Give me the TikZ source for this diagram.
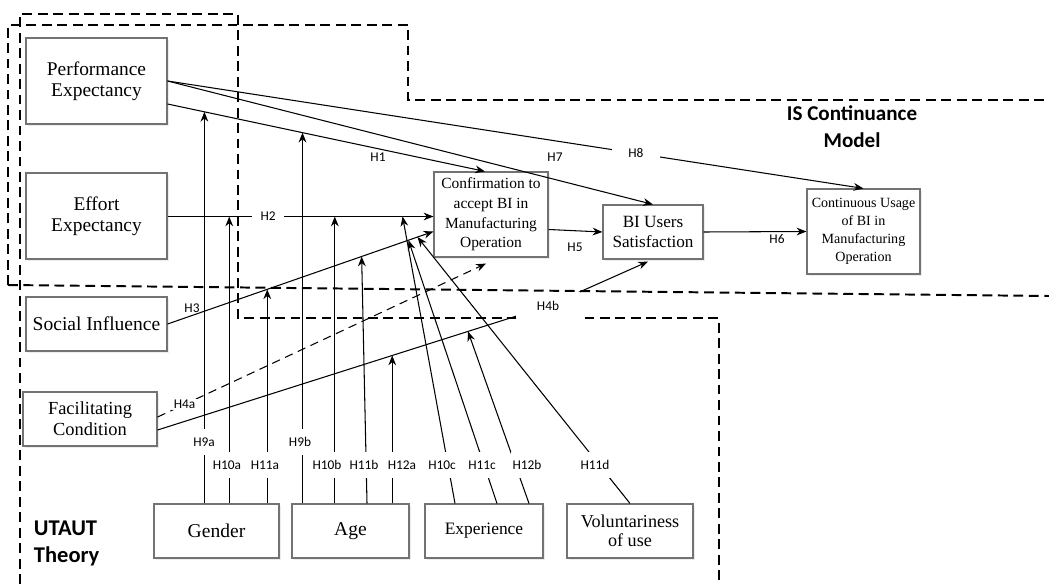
\documentclass[tikz,border=0pt]{standalone}
\usepackage{fontspec}
\setmainfont{Liberation Serif}
\newfontfamily\hfont{Carlito}
\usetikzlibrary{arrows.meta,calc,shadows}

\begin{document}
\begin{tikzpicture}[x=0.025cm,y=-0.025cm,>={Stealth[length=7pt,width=5.5pt]},
  box/.style={draw=black!55,line width=0.8pt,fill=white,align=center,inner sep=1pt,
    drop shadow={shadow xshift=1.2pt,shadow yshift=-1.2pt,opacity=0.15}},
  hyp/.style={font=\hfont\fontsize{9.5}{11}\selectfont,inner sep=1pt},
  hypw/.style={hyp,fill=white},
  modlbl/.style={hyp,fill=white,inner xsep=1pt,inner ysep=6pt},
  region/.style={line width=1.4pt,dash pattern=on 7pt off 4pt},
  link/.style={line width=0.75pt,->}]
  \useasboundingbox (0,0) rectangle (1049,584);

  % model borders
  \draw[region] (8,285) -- (8,25) -- (408,25) -- (408,100) -- (1049,100);
  \draw[region] (8,285) -- (1049,296);
  \draw[region] (20,584) -- (20,14) -- (238,14) -- (238,318) -- (719,318) -- (719,584);

  % constructs
  \node[box,minimum width=3.525cm,minimum height=2.15cm,font=\fontsize{13.8}{15}\selectfont] (pe) at (96.5,81) {Performance\\Expectancy};
  \node[box,minimum width=3.525cm,minimum height=2.15cm,font=\fontsize{13.8}{15}\selectfont] (ee) at (96.5,216) {Effort\\Expectancy};
  \node[box,minimum width=3.525cm,minimum height=1.35cm,font=\fontsize{13.9}{15}\selectfont] (si) at (96.5,324) {Social Influence};
  \node[box,minimum width=3.35cm,minimum height=1.35cm,font=\fontsize{13.1}{14.7}\selectfont] (fc) at (90,419) {Facilitating\\Condition};
  \node[box,minimum width=2.85cm,minimum height=2.125cm,font=\fontsize{11}{14}\selectfont] (conf) at (491,214.5) {Confirmation to\\accept BI in\\Manufacturing\\Operation};
  \node[box,minimum width=2.5cm,minimum height=1.35cm,font=\fontsize{12.2}{14.7}\selectfont] (bius) at (653,232) {BI Users\\Satisfaction};
  \node[box,minimum width=2.825cm,minimum height=2.125cm,font=\fontsize{10}{12.9}\selectfont] (cu) at (863.5,231.5) {Continuous Usage\\of BI in\\Manufacturing\\Operation};
  \node[box,minimum width=3.125cm,minimum height=1.35cm,font=\fontsize{13.9}{15}\selectfont] (gen) at (216.5,531) {Gender};
  \node[box,minimum width=2.925cm,minimum height=1.35cm,font=\fontsize{13.9}{15}\selectfont] (age) at (350.5,531) {Age};
  \node[box,minimum width=2.95cm,minimum height=1.35cm,font=\fontsize{12.4}{14}\selectfont] (exp) at (484,531) {Experience};
  \node[box,minimum width=3.15cm,minimum height=1.35cm,font=\fontsize{12.9}{13.2}\selectfont] (vol) at (630,531) {Voluntariness\\of use};

  % main paths
  \draw[link] (pe.east) -- node[hypw,pos=0.673,inner xsep=12pt] (l8) {H8} (cu.north);
  \draw[link] (pe.east) -- (bius.north);
  \draw[link] ($(pe.east)+(0,23)$) -- coordinate[pos=0.116] (t9a) coordinate[pos=0.425] (t9b) ($(conf.north)+(-6,0)$);
  \draw[link] ($(ee.east)+(0,0.5)$) -- coordinate[pos=0.232] (t10a) coordinate[pos=0.629] (t10b) coordinate[pos=0.884] (t10c)
    node[hypw,pos=0.378,inner xsep=6pt] (l2) {H2} ($(ee.east -| conf.west)+(0,0.5)$);
  \draw[link] (si.east) -- coordinate[pos=0.375] (t11a) coordinate[pos=0.730] (t11b) coordinate[pos=0.906] (t11c)
    coordinate[pos=0.940] (t11d) ($(conf.west)+(0,17)$);
  \draw[link,dash pattern=on 6pt off 4pt] ($(fc.east)+(0,-2)$) -- node[hypw,pos=0.082] (l4a) {H4a} ($(conf.south)+(-5,6)$);
  \coordinate (c4b) at (548,306);
  \draw[link] ($(fc.east)+(0,11)$) -- coordinate[pos=0.601] (t12a) coordinate[pos=0.795] (t12b)
    (c4b) node[hypw,minimum width=45pt,minimum height=20pt] (l4b) {H4b} -- ($(bius.south)+(-5,2)$);
  \draw[link] ($(conf.east)+(0,15)$) -- (bius.west);
  \draw[link] (bius.east) -- (cu.west);

  % moderators
  \draw[link] (t9a |- gen.north) -- (t9a);
  \draw[link] (t10a |- gen.north) -- (t10a);
  \draw[link] (t11a |- gen.north) -- (t11a);
  \draw[link] (t9b |- age.north) -- (t9b);
  \draw[link] (t10b |- age.north) -- (t10b);
  \draw[link] ($(age.north)+(16.5,0)$) -- (t11b);
  \draw[link] (t12a |- age.north) -- (t12a);
  \draw[link] ($(exp.north)+(-29,0)$) -- (t10c);
  \draw[link] ($(exp.north)+(13,0)$) -- (t11c);
  \draw[link] ($(exp.north)+(45,0)$) -- (t12b);
  \draw[link] (vol.north) -- (t11d);

  % labels
  \node[hyp] (l1) at (378,157) {H1};
  \node[hyp] (l3) at (192,308) {H3};
  \node[hyp] (l5) at (575,247) {H5};
  \node[hyp] (l6) at (777,239) {H6};
  \node[hyp] (l7) at (555,157) {H7};
  \node[modlbl] (l9a) at (204,442) {H9a};
  \node[modlbl] (l9b) at (300,442) {H9b};
  \node[modlbl] (l10a) at (227,465) {H10a};
  \node[modlbl] (l11a) at (265,465) {H11a};
  \node[modlbl] (l10b) at (327,465) {H10b};
  \node[modlbl] (l11b) at (364,465) {H11b};
  \node[modlbl] (l12a) at (402,465) {H12a};
  \node[modlbl] (l10c) at (442,465) {H10c};
  \node[modlbl] (l11c) at (482,465) {H11c};
  \node[modlbl] (l12b) at (527,465) {H12b};
  \node[modlbl] (l11d) at (595,465) {H11d};

  \node[font=\hfont\bfseries\fontsize{15}{19}\selectfont,align=center] (ism) at (852,127) {IS Continuance\\Model};
  \node[font=\hfont\bfseries\fontsize{16}{19}\selectfont,align=left,anchor=west] (uta) at (29,543.5) {UTAUT\\Theory};
\end{tikzpicture}
\end{document}
